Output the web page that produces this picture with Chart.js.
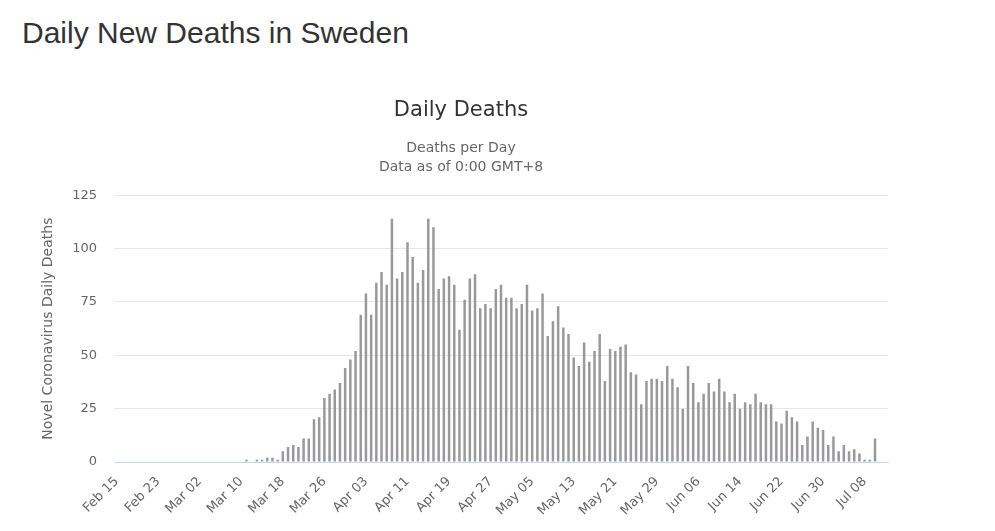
<!DOCTYPE html>
<html>
<head>
<meta charset="utf-8">
<title>Daily New Deaths in Sweden</title>
<script src="https://cdn.jsdelivr.net/npm/chart.js@4.4.1/dist/chart.umd.min.js"></script>
<style>
    body { margin: 0; background: #fff; width: 995px; height: 531px; overflow: hidden; }
    h3 {
        position: absolute; left: 22px; top: 18px; margin: 0;
        font: normal 30px/30px "Liberation Sans", Arial, sans-serif; color: #333;
    }
    #wrap { position: absolute; left: 0; top: 70px; width: 922px; height: 461px; }
</style>
</head>
<body>
<h3>Daily New Deaths in Sweden</h3>
<div id="wrap"><canvas id="deathsChart" width="922" height="461"></canvas></div>
<script>
// categories, one per day
const dates = [
    'Feb 15','Feb 16','Feb 17','Feb 18','Feb 19','Feb 20','Feb 21','Feb 22','Feb 23','Feb 24','Feb 25','Feb 26','Feb 27','Feb 28','Feb 29',
    'Mar 01','Mar 02','Mar 03','Mar 04','Mar 05','Mar 06','Mar 07','Mar 08','Mar 09','Mar 10','Mar 11','Mar 12','Mar 13','Mar 14','Mar 15','Mar 16',
    'Mar 17','Mar 18','Mar 19','Mar 20','Mar 21','Mar 22','Mar 23','Mar 24','Mar 25','Mar 26','Mar 27','Mar 28','Mar 29','Mar 30','Mar 31',
    'Apr 01','Apr 02','Apr 03','Apr 04','Apr 05','Apr 06','Apr 07','Apr 08','Apr 09','Apr 10','Apr 11','Apr 12','Apr 13','Apr 14','Apr 15',
    'Apr 16','Apr 17','Apr 18','Apr 19','Apr 20','Apr 21','Apr 22','Apr 23','Apr 24','Apr 25','Apr 26','Apr 27','Apr 28','Apr 29','Apr 30',
    'May 01','May 02','May 03','May 04','May 05','May 06','May 07','May 08','May 09','May 10','May 11','May 12','May 13','May 14','May 15','May 16',
    'May 17','May 18','May 19','May 20','May 21','May 22','May 23','May 24','May 25','May 26','May 27','May 28','May 29','May 30','May 31',
    'Jun 01','Jun 02','Jun 03','Jun 04','Jun 05','Jun 06','Jun 07','Jun 08','Jun 09','Jun 10','Jun 11','Jun 12','Jun 13','Jun 14','Jun 15',
    'Jun 16','Jun 17','Jun 18','Jun 19','Jun 20','Jun 21','Jun 22','Jun 23','Jun 24','Jun 25','Jun 26','Jun 27','Jun 28','Jun 29','Jun 30',
    'Jul 01','Jul 02','Jul 03','Jul 04','Jul 05','Jul 06','Jul 07','Jul 08','Jul 09','Jul 10','Jul 11','Jul 12'
];

// daily deaths
const dailyDeaths = [
    0, 0, 0, 0, 0, 0, 0, 0, 0, 0, 0, 0, 0, 0, 0, 0, 0, 0, 0, 0, 0, 0, 0, 0, 0,
    1, 0, 1, 1, 2, 2, 1,
    5, 7, 8, 7, 11, 11, 20, 21,
    30, 32, 34, 37, 44, 48, 52, 69,
    79, 69, 84, 89, 83, 114, 86, 89,
    103, 96, 84, 90, 114, 110, 81, 86,
    87, 83, 62, 76, 86, 88, 72, 74,
    72, 81, 83, 77, 77, 72, 74, 83,
    71, 72, 79, 59, 66, 73, 63, 60,
    49, 45, 56, 47, 52, 60, 38, 53,
    52, 54, 55, 42, 41, 27, 38, 39,
    39, 38, 45, 39, 35, 25, 45, 37,
    28, 32, 37, 33, 39, 33, 28, 32,
    25, 28, 27, 32, 28, 27, 27, 19,
    18, 24, 21, 19, 8, 12, 19, 16,
    15, 8, 12, 5, 8, 5, 6, 4,
    1, 1, 11, 0, 0
];

const yTicks = [0, 25, 50, 75, 100, 125];
const labelEvery = 8;

Chart.defaults.font.family = '"DejaVu Sans", "Lucida Grande", sans-serif';

const ctx = document.getElementById('deathsChart');
const chart = new Chart(ctx, {
    type: 'bar',
    data: {
        labels: dates,
        datasets: [{
            label: 'Daily Deaths',
            data: dailyDeaths,
            backgroundColor: '#999999',
            borderWidth: 0,
            categoryPercentage: 0.8,
            barPercentage: 0.6
        }]
    },
    options: {
        responsive: false,
        animation: false,
        devicePixelRatio: 1,
        layout: {
            padding: { left: 34, right: 34, top: 0, bottom: 0 }
        },
        plugins: {
            legend: { display: false },
            tooltip: { enabled: false },
            title: {
                display: true,
                text: 'Daily Deaths',
                color: '#333333',
                font: { size: 21, weight: 'normal' },
                padding: { top: 28, bottom: 9 }
            },
            subtitle: {
                display: true,
                text: ['Deaths per Day', 'Data as of 0:00 GMT+8'],
                color: '#666666',
                font: { size: 14, weight: 'normal', lineHeight: 1.357 },
                padding: { top: 7, bottom: 18 }
            }
        },
        scales: {
            x: {
                grid: { display: false },
                border: { display: true, color: '#ccd6eb' },
                ticks: {
                    autoSkip: false,
                    minRotation: 45,
                    maxRotation: 45,
                    padding: 4,
                    color: '#666666',
                    font: { size: 13 },
                    callback: function (value, index) {
                        return index % labelEvery === 0 ? this.getLabelForValue(value) : null;
                    }
                },
                afterFit: (scale) => { scale.height = 69; }
            },
            y: {
                min: yTicks[0],
                max: yTicks[yTicks.length - 1],
                afterBuildTicks: (scale) => { scale.ticks = yTicks.map(v => ({ value: v })); },
                grid: { color: '#e6e6e6', drawTicks: false },
                border: { display: false },
                ticks: {
                    padding: 17,
                    color: '#666666',
                    font: { size: 13 }
                },
                title: {
                    display: true,
                    text: 'Novel Coronavirus Daily Deaths',
                    color: '#666666',
                    font: { size: 14 },
                    padding: { top: 6, bottom: 0 }
                },
                afterFit: (scale) => { scale.width = 80; }
            }
        }
    }
});
</script>
</body>
</html>
